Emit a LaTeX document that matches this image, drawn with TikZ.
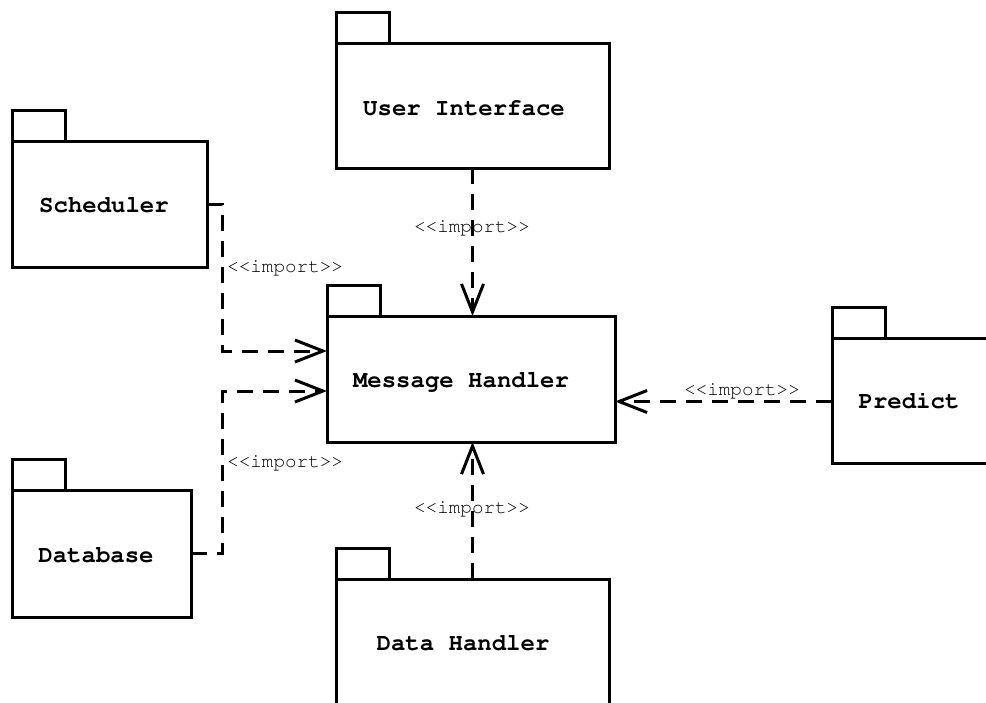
\documentclass[tikz,border=0pt]{standalone}
\usepackage[T1]{fontenc}
\renewcommand{\ttdefault}{pcr}
\usetikzlibrary{arrows.meta,calc}
\begin{document}
\begin{tikzpicture}[x=1pt,y=-1pt,
  pkgbody/.style={draw,line width=3pt,rectangle,inner sep=0pt,outer sep=0pt,anchor=north west},
  pkgtab/.style={draw,line width=3pt,rectangle,inner sep=0pt,outer sep=0pt,anchor=south west,minimum width=53pt,minimum height=31pt},
  pkgname/.style={font=\ttfamily\bfseries\fontsize{24}{28}\selectfont,inner sep=0pt,anchor=base},
  implabel/.style={font=\ttfamily\fontsize{19.3}{22}\selectfont,inner sep=0pt,anchor=base},
  dep/.style={line width=3pt,dash pattern=on 16pt off 10pt,-{Straight Barb[length=28pt,width=22pt,line width=3pt]}}
]
\clip (0,0) rectangle (986,702);
\fill[white] (0,0) rectangle (986,702);

% packages
\node[pkgbody,minimum width=273pt,minimum height=125pt] (ui) at (336,43) {};
\node[pkgtab] (uitab) at (ui.north west) {};
\node[pkgname] (uiname) at (464,115) {User Interface};

\node[pkgbody,minimum width=195pt,minimum height=126pt] (sch) at (12,141) {};
\node[pkgtab] (schtab) at (sch.north west) {};
\node[pkgname] (schname) at (104,212) {Scheduler};

\node[pkgbody,minimum width=179pt,minimum height=127pt] (db) at (12,490) {};
\node[pkgtab] (dbtab) at (db.north west) {};
\node[pkgname] (dbname) at (96,562) {Database};

\node[pkgbody,minimum width=288pt,minimum height=126pt] (mh) at (327,316) {};
\node[pkgtab] (mhtab) at (mh.north west) {};
\node[pkgname] (mhname) at (461,387) {Message Handler};

\node[pkgbody,minimum width=273pt,minimum height=135pt] (dh) at (336,579) {};
\node[pkgtab] (dhtab) at (dh.north west) {};
\node[pkgname] (dhname) at (463,650) {Data Handler};

\node[pkgbody,minimum width=273pt,minimum height=125pt] (pr) at (832,338) {};
\node[pkgtab] (prtab) at (pr.north west) {};
\node[pkgname] (prname) at (909,408) {Predict};

% dependencies
\draw[dep] (ui.south) -- (ui.south |- mh.north);
\draw[dep] (sch.east) -- ++(15,0) |- ([yshift=28pt]mh.west);
\draw[dep] (db.east) -- ++(31,0) |- ([yshift=-12pt]mh.west);
\draw[dep] ([yshift=-1pt]pr.west) -- ([yshift=-1pt]pr.west -| mh.east);
\draw[dep] (dh.north) -- (dh.north |- mh.south);

% labels
\node[implabel] (l1) at (472,232) {<{}<import>{}>};
\node[implabel,anchor=base west] (l2) at (227,272) {<{}<import>{}>};
\node[implabel,anchor=base west] (l3) at (227,467) {<{}<import>{}>};
\node[implabel] (l4) at (742,395) {<{}<import>{}>};
\node[implabel] (l5) at (472,513) {<{}<import>{}>};
\end{tikzpicture}
\end{document}
